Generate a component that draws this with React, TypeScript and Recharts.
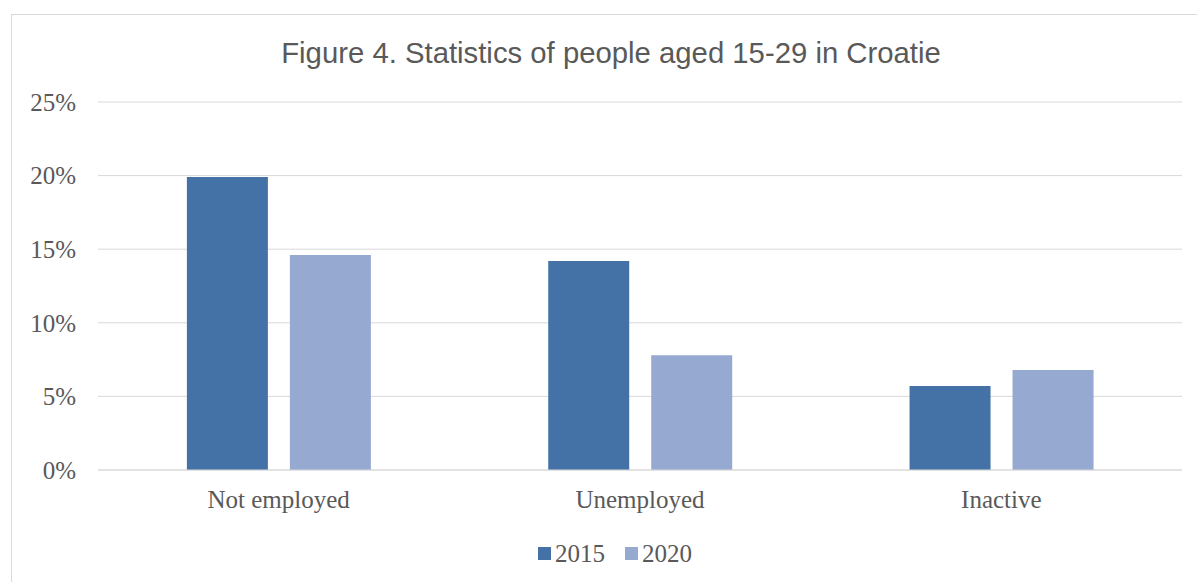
import { BarChart, Bar, XAxis, YAxis, CartesianGrid, Legend } from "recharts";

const categories = ["Not employed", "Unemployed", "Inactive"];
const values2015 = [19.9, 14.2, 5.7];
const values2020 = [14.6, 7.8, 6.8];
const yTicks = [0, 5, 10, 15, 20, 25];

const series = [
  { key: "y2015", name: "2015", color: "#4472A6" },
  { key: "y2020", name: "2020", color: "#95A9D1" },
];

const data = categories.map((name, i) => ({
  name,
  y2015: values2015[i],
  y2020: values2020[i],
}));

const serif = "'Liberation Serif', 'Times New Roman', serif";
const textColor = "#595959";

function LegendRow() {
  return (
    <div
      style={{
        height: 30,
        lineHeight: "30px",
        fontFamily: serif,
        fontSize: 25,
        color: textColor,
        textAlign: "center",
        whiteSpace: "nowrap",
        paddingLeft: 8,
      }}
    >
      {series.map((s, i) => (
        <span key={s.key} style={{ marginLeft: i === 0 ? 0 : 20 }}>
          <span
            style={{
              display: "inline-block",
              width: 13,
              height: 13,
              background: s.color,
              marginRight: 4,
              marginBottom: 2,
            }}
          />
          {s.name}
        </span>
      ))}
    </div>
  );
}

export default function App() {
  return (
    <div
      style={{
        position: "absolute",
        left: 0,
        top: 0,
        width: 1197,
        height: 582,
        overflow: "hidden",
        background: "#fff",
      }}
    >
      <div
        style={{
          position: "absolute",
          left: 11,
          top: 14,
          width: 1198,
          height: 580,
          border: "1px solid #d9d9d9",
        }}
      >
        <div
          style={{
            position: "absolute",
            left: 0,
            top: 22.5,
            width: 1198,
            textAlign: "center",
            fontFamily: "'Liberation Sans', Arial, sans-serif",
            fontSize: 29.3,
            lineHeight: "29px",
            color: textColor,
          }}
        >
          Figure 4. Statistics of people aged 15-29 in Croatie
        </div>
        <BarChart
          width={1198}
          height={567}
          data={data}
          margin={{ top: 87, right: 28, bottom: 13, left: 0 }}
          barCategoryGap="24.6%"
          barGap={22}
        >
          <CartesianGrid vertical={false} stroke="#d9d9d9" />
          <XAxis
            dataKey="name"
            height={69}
            tickLine={false}
            tickSize={0}
            tickMargin={20}
            axisLine={{ stroke: "#d9d9d9" }}
            tick={{ fill: textColor, fontSize: 25, fontFamily: serif }}
          />
          <YAxis
            width={86}
            domain={[0, 25]}
            ticks={yTicks}
            tickFormatter={(v: number) => `${v}%`}
            axisLine={false}
            tickLine={false}
            tickSize={0}
            tickMargin={22}
            tick={{ fill: textColor, fontSize: 25, fontFamily: serif }}
          />
          <Legend
            verticalAlign="bottom"
            wrapperStyle={{ left: 0, width: 1198 }}
            content={() => <LegendRow />}
          />
          {series.map((s) => (
            <Bar
              key={s.key}
              dataKey={s.key}
              name={s.name}
              fill={s.color}
              isAnimationActive={false}
            />
          ))}
        </BarChart>
      </div>
    </div>
  );
}
